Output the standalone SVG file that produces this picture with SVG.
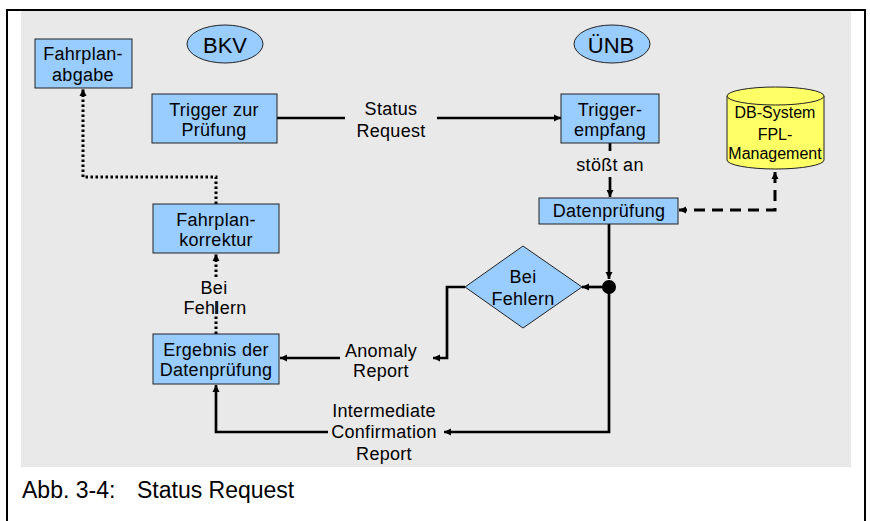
<svg xmlns="http://www.w3.org/2000/svg" width="870" height="521" viewBox="0 0 870 521">
<style>
text{font-family:"Liberation Sans",Arial,sans-serif;fill:#000;}
.t{font-size:18px;letter-spacing:0.3px;text-anchor:middle;}
.box{fill:#99CCFF;stroke:#222;stroke-width:1;}
.ln{fill:none;stroke:#000;stroke-width:2.7;}
.dot{fill:none;stroke:#000;stroke-width:3;stroke-dasharray:2.5 2.5;}
.dash{fill:none;stroke:#000;stroke-width:3;stroke-dasharray:11 7;}
</style>
<defs>
<marker id="ah" markerUnits="userSpaceOnUse" markerWidth="8" markerHeight="8" refX="7" refY="4" orient="auto-start-reverse">
<path d="M0,0.5 L7,4 L0,7.5 z" fill="#000"/>
</marker>
</defs>
<rect x="7" y="10" width="858" height="520" fill="#fff" stroke="#000" stroke-width="2"/>
<rect x="21" y="11" width="830" height="456" fill="#E9E9E9"/>

<g id="connectors">
<path class="ln" d="M277,118 H345"/>
<path class="ln" d="M437,118 H561" marker-end="url(#ah)"/>
<path class="ln" d="M610,143 V151"/>
<path class="ln" d="M610,177 V197" marker-end="url(#ah)"/>
<path class="ln" d="M609,224 V279" marker-end="url(#ah)"/>
<path class="ln" d="M603,287 H582" marker-end="url(#ah)"/>
<path class="ln" d="M465,287 H447 V358 H433" marker-end="url(#ah)"/>
<path class="ln" d="M340,358 H280" marker-end="url(#ah)"/>
<path class="ln" d="M609,287 V432 H444" marker-end="url(#ah)"/>
<path class="ln" d="M328,432 H216 V385" marker-end="url(#ah)"/>
<path class="dot" d="M216,334 V316"/>
<path fill="none" stroke="#000" stroke-width="1.5" d="M216,301 V314"/>
<path class="dot" d="M216,277 V254" marker-end="url(#ah)"/>
<path class="dot" d="M216,204 V177 H83 V89" marker-end="url(#ah)"/>
<path class="dash" d="M775,172 V210 H679" marker-start="url(#ah)" marker-end="url(#ah)"/>
<text class="t" x="391" y="115">Status</text>
<text class="t" x="391" y="137">Request</text>
<text class="t" x="610" y="171">stößt an</text>
<text class="t" x="381" y="357">Anomaly</text>
<text class="t" x="381" y="377">Report</text>
<text class="t" x="384" y="417">Intermediate</text>
<text class="t" x="384" y="438">Confirmation</text>
<text class="t" x="384" y="460">Report</text>
<text class="t" x="214" y="294">Bei</text>
<text class="t" x="215" y="314">Fehlern</text>
</g>

<g id="bkv">
<ellipse cx="225" cy="44" rx="38" ry="19" fill="#99CCFF" stroke="#222" stroke-width="1"/>
<text x="225" y="53" font-size="22" text-anchor="middle">BKV</text>
</g>
<g id="unb">
<ellipse cx="612" cy="44" rx="38" ry="19" fill="#99CCFF" stroke="#222" stroke-width="1"/>
<text x="611" y="53" font-size="22" text-anchor="middle">ÜNB</text>
</g>

<g id="fahrplanabgabe">
<rect class="box" x="35" y="39" width="97" height="49"/>
<text class="t" x="83" y="60">Fahrplan-</text>
<text class="t" x="83" y="81">abgabe</text>
</g>
<g id="trigger-pruefung">
<rect class="box" x="152" y="94" width="125" height="49"/>
<text class="t" x="214" y="116">Trigger zur</text>
<text class="t" x="214" y="136">Prüfung</text>
</g>
<g id="fahrplankorrektur">
<rect class="box" x="153" y="204" width="126" height="49"/>
<text class="t" x="216" y="226">Fahrplan-</text>
<text class="t" x="216" y="246">korrektur</text>
</g>
<g id="ergebnis">
<rect class="box" x="153" y="334" width="126" height="50"/>
<text class="t" x="216" y="356">Ergebnis der</text>
<text class="t" x="216" y="376">Datenprüfung</text>
</g>
<g id="triggerempfang">
<rect class="box" x="561" y="94" width="98" height="49"/>
<text class="t" x="610" y="116">Trigger-</text>
<text class="t" x="610" y="136">empfang</text>
</g>
<g id="datenpruefung">
<rect class="box" x="539" y="198" width="139" height="26"/>
<text class="t" x="609" y="217">Datenprüfung</text>
</g>
<g id="db-system">
<path d="M727,96 V160 A48.5,9 0 0 0 824,160 V96" fill="#FFFF66" stroke="#222" stroke-width="1"/>
<ellipse cx="775.5" cy="96" rx="48.5" ry="9" fill="#FFFF66" stroke="#222" stroke-width="1"/>
<text x="775" y="118" font-size="16" text-anchor="middle">DB-System</text>
<text x="775" y="140" font-size="16" text-anchor="middle">FPL-</text>
<text x="775" y="159" font-size="16" text-anchor="middle">Management</text>
</g>
<g id="bei-fehlern">
<path d="M523,246 L582,287 L523,328 L465,287 z" fill="#99CCFF" stroke="#222" stroke-width="1"/>
<text class="t" x="523" y="283">Bei</text>
<text class="t" x="523" y="305">Fehlern</text>
</g>
<g id="junction">
<circle cx="609" cy="287" r="7" fill="#000"/>
</g>

<text x="22" y="498" font-size="23">Abb. 3-4:<tspan x="137">Status Request</tspan></text>
</svg>
